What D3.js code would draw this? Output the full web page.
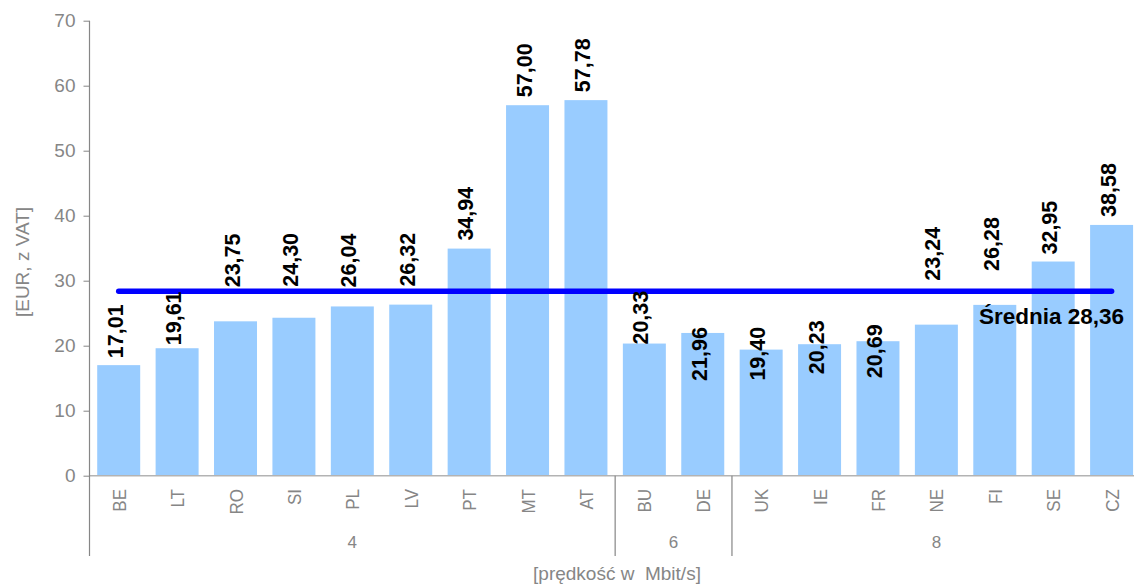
<!DOCTYPE html>
<html>
<head>
<meta charset="utf-8">
<script src="https://cdn.jsdelivr.net/npm/d3@7/dist/d3.min.js"></script>
<style>
  html, body { margin: 0; padding: 0; background: #fff; }
  svg { display: block; font-family: "Liberation Sans", Arial, sans-serif; }
</style>
</head>
<body>
<svg id="chart" width="1134" height="585"></svg>
<script>
// Monthly price per country, grouped by download speed
const countries = ["BE","LT","RO","SI","PL","LV","PT","MT","AT","BU","DE","UK","IE","FR","NE","FI","SE","CZ"];
const prices    = [17.01, 19.61, 23.75, 24.30, 26.04, 26.32, 34.94, 57.00, 57.78, 20.33, 21.96, 19.40, 20.23, 20.69, 23.24, 26.28, 32.95, 38.58];
const speedGroups = ["4", "6", "8"];
const groupSizes  = [9, 2, 7];
const averagePrice = 28.36;
const yTicks = [0, 10, 20, 30, 40, 50, 60, 70];

// Gap (px) between a bar's top and the start of its value label;
// negative values push the label down so it clears the average line.
const labelGap = [7, 3, 34, 31, 19, 18, 8, 8, 8, -1, -48, -31, -30, -37, 44, 34, 7, 8];

const svg = d3.select("#chart");
const plotLeft = 89.5, plotTop = 20.7, plotBottom = 475.7, plotRight = 1140.8, dividerBottom = 556;

const x = d3.scaleBand().domain(countries).range([plotLeft, plotRight])
  .paddingInner(0.264).paddingOuter(0.132);
const y = d3.scaleLinear().domain([0, 70]).range([plotBottom, plotTop]);

const fmt = v => v.toFixed(2).replace(".", ",");
const grey = "#868686";

// bars
svg.append("g").selectAll("rect").data(countries).join("rect")
  .attr("x", d => x(d))
  .attr("y", (d, i) => y(prices[i]))
  .attr("width", x.bandwidth())
  .attr("height", (d, i) => y(0) - y(prices[i]))
  .attr("fill", "#99CCFF");

// category baseline
svg.append("line")
  .attr("x1", plotLeft).attr("x2", 1134)
  .attr("y1", y(0)).attr("y2", y(0))
  .attr("stroke", "#b3b3b3").attr("stroke-width", 1.5);

// y axis
const yAxis = d3.axisLeft(y).tickValues(yTicks).tickSize(6).tickPadding(8).tickFormat(d3.format("d"));
const gy = svg.append("g").attr("transform", `translate(${plotLeft},0)`).call(yAxis);
gy.select(".domain").remove();
gy.selectAll(".tick line").attr("stroke", grey);
gy.selectAll(".tick text").attr("fill", grey).style("font-size", "19px")
  .style("font-family", "'Liberation Sans', Arial, sans-serif");
svg.append("line")
  .attr("x1", plotLeft).attr("x2", plotLeft).attr("y1", plotTop).attr("y2", dividerBottom)
  .attr("stroke", grey).attr("stroke-width", 1.2);

// country labels
svg.append("g").selectAll("text").data(countries).join("text")
  .attr("transform", d => `translate(${x(d) + x.bandwidth() / 2 + 7},489) rotate(-90) scale(1,1.1)`)
  .attr("text-anchor", "end")
  .attr("fill", grey).style("font-size", "17px")
  .text(d => d);

// speed group dividers and labels
let start = 0;
const step = x.step();
groupSizes.forEach((n, gi) => {
  const x0 = x(countries[start]) - x.paddingInner() * step / 2;
  const x1 = x0 + n * step;
  if (gi > 0) {
    svg.append("line")
      .attr("x1", x0).attr("x2", x0).attr("y1", y(0)).attr("y2", dividerBottom)
      .attr("stroke", grey).attr("stroke-width", 1.2);
  }
  svg.append("text")
    .attr("x", (x0 + x1) / 2).attr("y", 547.5)
    .attr("text-anchor", "middle")
    .attr("fill", grey).style("font-size", "17px")
    .text(speedGroups[gi]);
  start += n;
});

// axis titles
svg.append("text")
  .attr("x", 617).attr("y", 580)
  .attr("text-anchor", "middle")
  .attr("fill", grey).style("font-size", "19px")
  .attr("xml:space", "preserve")
  .text("[prędkość w  Mbit/s]");
svg.append("text")
  .attr("transform", "translate(29,262) rotate(-90)")
  .attr("text-anchor", "middle")
  .attr("fill", grey).style("font-size", "19px")
  .text("[EUR, z VAT]");

// average line
svg.append("line")
  .attr("x1", x(countries[0]) + x.bandwidth() / 2)
  .attr("x2", x(countries[countries.length - 1]) + x.bandwidth() / 2)
  .attr("y1", y(averagePrice)).attr("y2", y(averagePrice))
  .attr("stroke", "#0000FF").attr("stroke-width", 5.5).attr("stroke-linecap", "round");
svg.append("text")
  .attr("x", 979).attr("y", 324)
  .attr("fill", "#000").style("font-size", "22.5px").style("font-weight", "bold")
  .attr("xml:space", "preserve")
  .text("Średnia " + fmt(averagePrice));

// value labels
svg.append("g").selectAll("text").data(countries).join("text")
  .attr("transform", (d, i) => `translate(${x(d) + x.bandwidth() / 2 + 4},${y(prices[i]) - labelGap[i]}) rotate(-90)`)
  .attr("text-anchor", "start")
  .attr("fill", "#000").style("font-size", "21.5px").style("font-weight", "bold")
  .text((d, i) => fmt(prices[i]));
</script>
</body>
</html>
